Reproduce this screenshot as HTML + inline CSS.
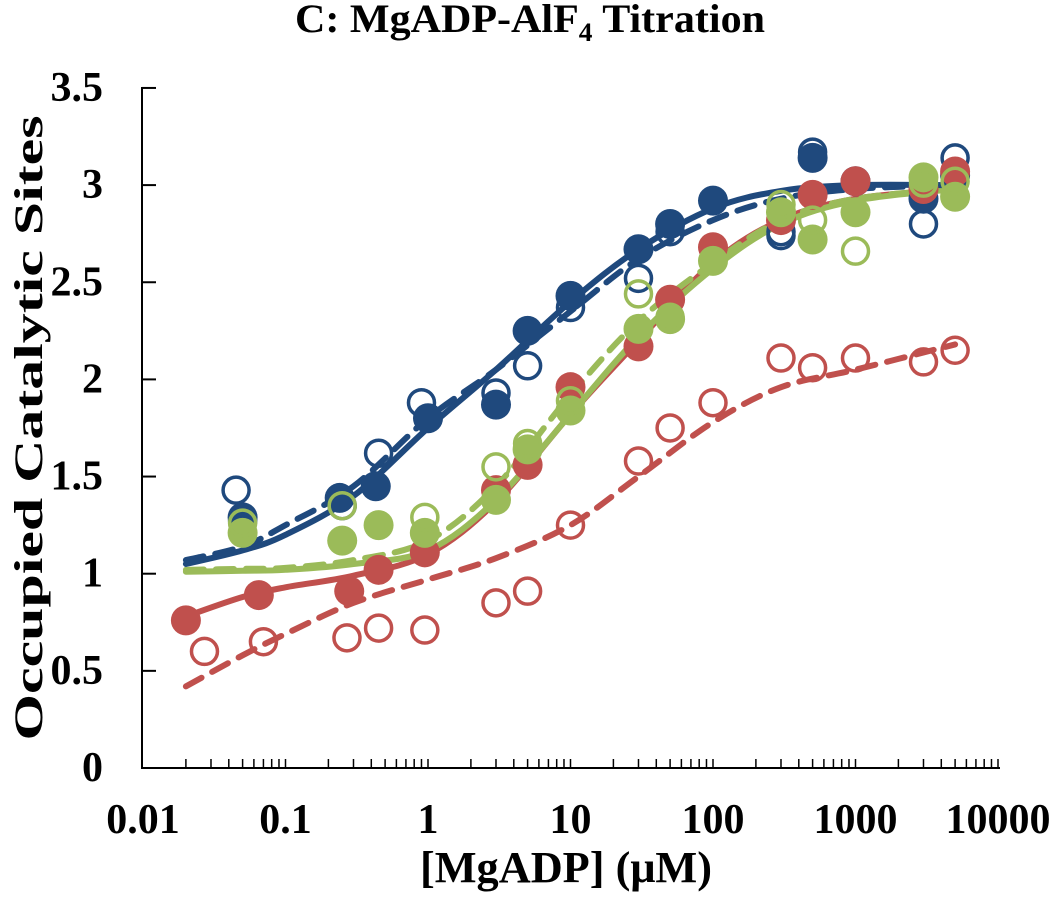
<!DOCTYPE html>
<html><head><meta charset="utf-8"><style>
body{margin:0;background:#fff}
svg text{font-family:"Liberation Serif",serif;font-weight:bold;fill:#000}
</style></head><body>
<svg id="chart" width="1050" height="904" viewBox="0 0 1050 904" xmlns="http://www.w3.org/2000/svg">
<text x="530" y="32" text-anchor="middle" font-size="40" textLength="470" lengthAdjust="spacingAndGlyphs">C: MgADP-AlF<tspan font-size="26" dy="9">4</tspan><tspan dy="-9"> Titration</tspan></text>
<text transform="translate(42,428) rotate(-90)" text-anchor="middle" font-size="40" textLength="625" lengthAdjust="spacingAndGlyphs">Occupied Catalytic Sites</text>
<text x="566" y="882" text-anchor="middle" font-size="44" textLength="292" lengthAdjust="spacingAndGlyphs">[MgADP] (μM)</text>
<g id="axes"></g><g id="curves"></g><g id="points"></g>
</svg>
<script>
const xTicks=[0.01,0.1,1,10,100,1000,10000];
const xTickLabels=["0.01","0.1","1","10","100","1000","10000"];
const yTicks=[0,0.5,1,1.5,2,2.5,3,3.5];
const yTickLabels=["0","0.5","1","1.5","2","2.5","3","3.5"];
const curveX=[0.02,0.05,0.1,0.3,1,3,10,30,100,300,1000,5000];
const blueSolid=[1.05,1.12,1.2,1.4,1.75,2.05,2.4,2.67,2.88,2.97,3.0,3.0];
const blueDashed=[1.07,1.14,1.25,1.45,1.8,2.05,2.35,2.62,2.82,2.93,2.98,3.0];
const greenSolid=[1.01,1.015,1.02,1.05,1.12,1.38,1.82,2.22,2.57,2.8,2.92,2.98];
const greenDashed=[1.02,1.025,1.03,1.07,1.17,1.45,1.92,2.3,2.6,2.82,2.93,2.98];
const redSolid=[0.78,0.88,0.93,0.99,1.1,1.37,1.82,2.2,2.6,2.82,2.93,2.98];
const redDashed=[0.42,0.58,0.69,0.85,0.97,1.08,1.25,1.5,1.78,1.96,2.05,2.18];
const blueFilledX=[0.05,0.24,0.43,1,3,5,10,30,50,100,500,1000,3000,5000];
const blueFilledY=[1.29,1.39,1.45,1.80,1.87,2.25,2.43,2.67,2.80,2.92,3.14,3.02,2.93,3.05];
const blueOpenX=[0.045,0.05,0.25,0.45,0.9,3,5,10,30,50,300,300,500,1000,3000,5000];
const blueOpenY=[1.43,1.27,1.35,1.62,1.88,1.93,2.07,2.37,2.52,2.76,2.76,2.74,3.17,3.02,2.80,3.14];
const redFilledX=[0.02,0.065,0.28,0.45,0.95,3,5,10,30,50,100,300,500,1000,3000,5000];
const redFilledY=[0.76,0.89,0.91,1.02,1.11,1.43,1.56,1.96,2.17,2.41,2.68,2.82,2.95,3.02,2.98,3.07];
const redOpenX=[0.027,0.07,0.27,0.45,0.95,3,5,10,30,50,100,300,500,1000,3000,5000];
const redOpenY=[0.60,0.65,0.67,0.72,0.71,0.85,0.91,1.25,1.58,1.75,1.88,2.11,2.06,2.11,2.09,2.15];
const greenFilledX=[0.05,0.25,0.45,0.95,3,5,10,30,50,100,300,500,1000,3000,5000];
const greenFilledY=[1.21,1.17,1.25,1.21,1.38,1.64,1.84,2.26,2.31,2.61,2.86,2.72,2.86,3.04,2.94];
const greenOpenX=[0.05,0.25,0.95,3,5,10,30,50,300,500,1000,3000,5000];
const greenOpenY=[1.26,1.35,1.29,1.55,1.67,1.89,2.44,2.32,2.90,2.82,2.66,3.01,3.02];

const NS="http://www.w3.org/2000/svg";
const sx=v=>143+142.5*Math.log10(v/0.01);
const sy=v=>768-194.3*v;
function mk(tag,parent,attrs){const e=document.createElementNS(NS,tag);for(const k in attrs)e.setAttribute(k,attrs[k]);parent.appendChild(e);return e;}
const axes=document.getElementById('axes');
let e=mk('line',axes,{x1:142,y1:87,x2:142,y2:769,stroke:'#000','stroke-width':2});


e=mk('line',axes,{x1:141,y1:768,x2:1000,y2:768,stroke:'#000','stroke-width':2});


yTicks.forEach((t,i)=>{
  mk('line',axes,{x1:142,y1:sy(t),x2:156,y2:sy(t),stroke:'#000','stroke-width':2});
  const tx=mk('text',axes,{x:103,y:sy(t)+13,'text-anchor':'end','font-size':42});
  tx.textContent=yTickLabels[i];
  
  
});
xTicks.forEach((t,i)=>{
  if(i<xTicks.length-1){for(let m=2;m<=10;m++){mk('line',axes,{x1:sx(t*m),y1:768,x2:sx(t*m),y2:759,stroke:'#000','stroke-width':1.5});}}
  const tx=mk('text',axes,{x:sx(t),y:833,'text-anchor':'middle','font-size':42});
  tx.textContent=xTickLabels[i];
  
  
});
function pathFor(xs,ys){
  const p=xs.map((x,i)=>[sx(x),sy(ys[i])]);
  let d=`M${p[0][0]},${p[0][1]}`;
  for(let i=0;i<p.length-1;i++){
    const p0=p[i-1]||p[i],p1=p[i],p2=p[i+1],p3=p[i+2]||p2;
    const c1=[p1[0]+(p2[0]-p0[0])/6,p1[1]+(p2[1]-p0[1])/6];
    const c2=[p2[0]-(p3[0]-p1[0])/6,p2[1]-(p3[1]-p1[1])/6];
    d+=`C${c1[0]},${c1[1]} ${c2[0]},${c2[1]} ${p2[0]},${p2[1]}`;
  }
  return d;
}
const curves=document.getElementById('curves');
const points=document.getElementById('points');
const BLUE='#1f497d',RED='#c0504d',GREEN='#9bbb59';
function curve(ys,col,dash,name){
  const c=mk('path',curves,{d:pathFor(curveX,ys),fill:'none',stroke:col,'stroke-width':6,'stroke-linecap':'round','stroke-dasharray':dash?'18,12':'none'});
  
  
}
function pts(xs,ys,col,filled,name){
  xs.forEach((x,i)=>{
    const c=mk('circle',points,{cx:sx(x),cy:sy(ys[i]),r:filled?15:13,fill:filled?col:'none',stroke:col,'stroke-width':filled?0:3.5});
    
    
  });
}
curve(redDashed,RED,true,'red-dashed-fit');
curve(redSolid,RED,false,'red-solid-fit');
curve(greenDashed,GREEN,true,'green-dashed-fit');
curve(greenSolid,GREEN,false,'green-solid-fit');
curve(blueDashed,BLUE,true,'blue-dashed-fit');
curve(blueSolid,BLUE,false,'blue-solid-fit');
pts(blueOpenX,blueOpenY,BLUE,false,'blue-open-point');
pts(blueFilledX,blueFilledY,BLUE,true,'blue-filled-point');
pts(redOpenX,redOpenY,RED,false,'red-open-point');
pts(redFilledX,redFilledY,RED,true,'red-filled-point');
pts(greenFilledX,greenFilledY,GREEN,true,'green-filled-point');
pts(greenOpenX,greenOpenY,GREEN,false,'green-open-point');
</script>
</body></html>
